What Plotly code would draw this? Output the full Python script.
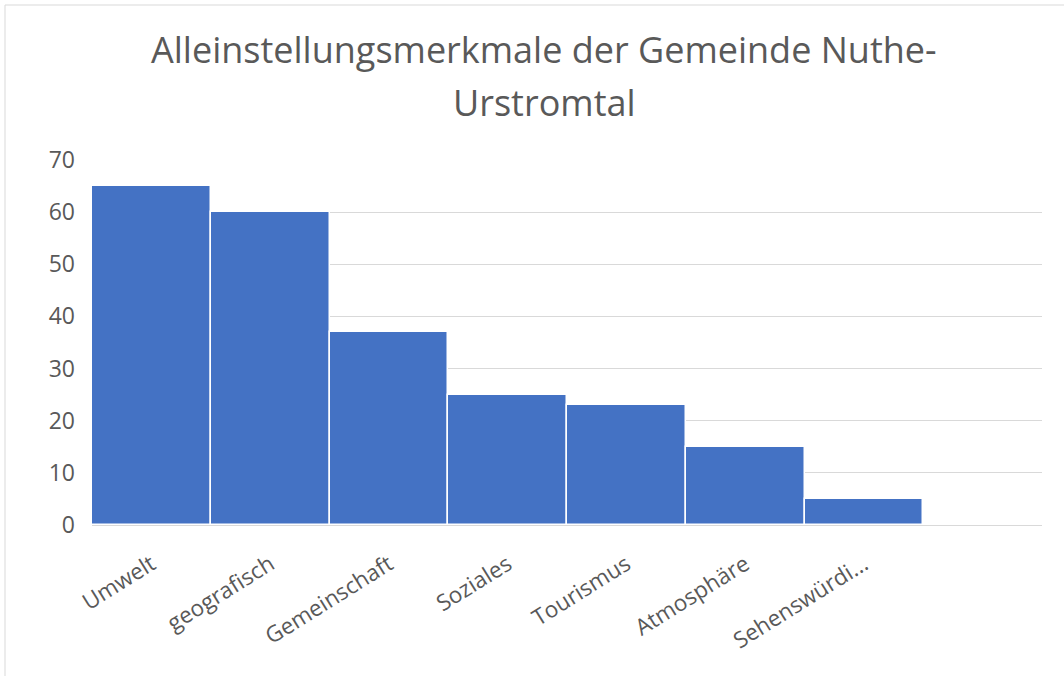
import plotly.graph_objects as go

categories = ["Umwelt", "geografisch", "Gemeinschaft", "Soziales", "Tourismus", "Atmosphäre", "Sehenswürdi..."]
values = [65, 60, 37, 25, 23, 15, 5]
y_ticks = [0, 10, 20, 30, 40, 50, 60, 70]
title_lines = ["Alleinstellungsmerkmale der Gemeinde Nuthe-", "Urstromtal"]

W, H = 1064, 676
L, R, T, B = 92, 22, 160, 151
pw, ph = W - L - R, H - T - B

def px_x(x):
    return (x - L) / pw

def px_y(y):
    return (H - B - y) / ph

FONT = "Open Sans"
TXT = "#595959"

fig = go.Figure(go.Bar(
    x=categories, y=values,
    marker=dict(color="#4472C4", line=dict(color="white", width=1.5)),
))

fig.update_layout(
    width=W, height=H,
    margin=dict(l=L, r=R, t=T, b=B),
    paper_bgcolor="white", plot_bgcolor="white",
    bargap=0,
    showlegend=False,
    font=dict(family=FONT, color=TXT),
    xaxis=dict(
        type="category", range=[-0.5, 7.5],
        tickangle=-32, tickfont=dict(size=22.5, color=TXT, family=FONT),
        showgrid=False, showline=False, ticks="",
        ticklabelstandoff=21,
    ),
    yaxis=dict(
        range=[0, 70], tickvals=y_ticks,
        tickfont=dict(size=23, color=TXT, family=FONT),
        showgrid=True, gridcolor="#d9d9d9", gridwidth=1,
        zeroline=True, zerolinecolor="#d9d9d9", zerolinewidth=1,
        showline=False, ticks="", ticklen=0,
        ticklabelstandoff=16,
    ),
    annotations=[
        dict(text=title_lines[0], x=px_x(544), y=px_y(50), xref="paper", yref="paper",
             showarrow=False, xanchor="center", yanchor="middle",
             font=dict(size=36, color=TXT, family=FONT)),
        dict(text=title_lines[1], x=px_x(544), y=px_y(102), xref="paper", yref="paper",
             showarrow=False, xanchor="center", yanchor="middle",
             font=dict(size=36, color=TXT, family=FONT)),
    ],
    shapes=[
        dict(type="line", xref="paper", yref="paper", x0=px_x(5), x1=px_x(1070),
             y0=px_y(5), y1=px_y(5), line=dict(color="#d9d9d9", width=1)),
        dict(type="line", xref="paper", yref="paper", x0=px_x(5), x1=px_x(5),
             y0=px_y(5), y1=px_y(680), line=dict(color="#d9d9d9", width=1)),
    ],
)

fig.write_html("out.html", config={"displayModeBar": False},
               post_script="document.body.style.margin='0';")
